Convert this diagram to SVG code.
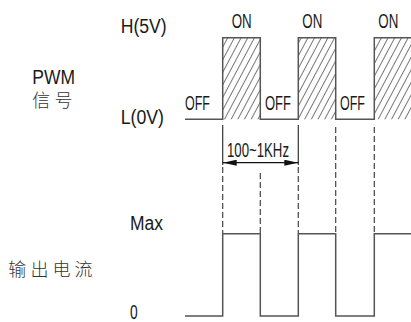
<svg xmlns="http://www.w3.org/2000/svg" width="411" height="322" viewBox="0 0 411 322">
<style>
.t{font-family:"Liberation Sans",Arial,sans-serif;font-size:19.5px;fill:#1a1a1a}
.cjk{font-family:"Noto Sans CJK SC",sans-serif;font-size:18px;fill:#333;font-weight:300}
.w{fill:none;stroke:#555;stroke-width:1.5}
.d{fill:none;stroke:#444;stroke-width:1.2;stroke-dasharray:6 3}
.s{fill:none;stroke:#333;stroke-width:1.2}
</style>
<defs>
<pattern id="hatch" patternUnits="userSpaceOnUse" width="5.9" height="12" patternTransform="rotate(28)">
<line x1="0.5" y1="0" x2="0.5" y2="12" stroke="#555" stroke-width="0.8"/>
</pattern>
<marker id="ah" viewBox="0 0 14 6" refX="14" refY="3" markerWidth="14" markerHeight="6" markerUnits="userSpaceOnUse" orient="auto-start-reverse">
<path d="M0,0 L14,3 L0,6 Z" fill="#111"/>
</marker>
</defs>

<g id="labels">
<text class="t" x="120.7" y="33.3" textLength="46" lengthAdjust="spacingAndGlyphs">H(5V)</text>
<text class="t" x="120.7" y="123.5" textLength="43.3" lengthAdjust="spacingAndGlyphs">L(0V)</text>
<text class="t" x="32.3" y="84.3" textLength="42.7" lengthAdjust="spacingAndGlyphs">PWM</text>
<text class="cjk" x="32.3 54.5" y="106.8">信号</text>
<text class="t" x="130" y="230" textLength="33" lengthAdjust="spacingAndGlyphs">Max</text>
<text class="cjk" x="8.3 30.5 52.5 74.5" y="276">输出电流</text>
<text class="t" x="130" y="319.3" textLength="7.7" lengthAdjust="spacingAndGlyphs">0</text>
</g>

<g id="pwm">
<rect x="222.7" y="37.7" width="37.6" height="81.6" fill="url(#hatch)"/>
<rect x="298.3" y="37.7" width="37.4" height="81.6" fill="url(#hatch)"/>
<rect x="374.3" y="37.7" width="37" height="81.6" fill="url(#hatch)"/>
<path class="w" d="M185,119.3 H222.7 V37.7 H260.3 V119.3 H298.3 V37.7 H335.7 V119.3 H374.3 V37.7 H411"/>
<text class="t" x="231.7" y="28.3" textLength="20" lengthAdjust="spacingAndGlyphs">ON</text>
<text class="t" x="302.3" y="28.3" textLength="20" lengthAdjust="spacingAndGlyphs">ON</text>
<text class="t" x="378.3" y="28.3" textLength="20" lengthAdjust="spacingAndGlyphs">ON</text>
<text class="t" x="185" y="110" textLength="25" lengthAdjust="spacingAndGlyphs">OFF</text>
<text class="t" x="265" y="110" textLength="26" lengthAdjust="spacingAndGlyphs">OFF</text>
<text class="t" x="340" y="110" textLength="25" lengthAdjust="spacingAndGlyphs">OFF</text>
</g>

<g id="output">
<path class="w" d="M185,316 H222.7 V233.7 H260.3 V316 H298.3 V233.7 H335.7 V316 H374.3 V233.7 H411"/>
</g>

<g id="connectors">
<line class="s" x1="222.7" y1="125" x2="222.7" y2="165"/>
<line class="s" x1="298.3" y1="125" x2="298.3" y2="165"/>
<line class="d" x1="222.7" y1="167" x2="222.7" y2="233"/>
<line class="d" x1="298.3" y1="167" x2="298.3" y2="233"/>
<line class="d" x1="260.3" y1="173" x2="260.3" y2="233"/>
<line class="d" x1="335.7" y1="127" x2="335.7" y2="233"/>
<line class="d" x1="374.3" y1="127" x2="374.3" y2="233"/>
<line x1="222.7" y1="162.7" x2="298.3" y2="162.7" stroke="#111" stroke-width="1.2" marker-start="url(#ah)" marker-end="url(#ah)"/>
<text class="t" x="227" y="157" textLength="62" lengthAdjust="spacingAndGlyphs">100~1KHz</text>
</g>
</svg>
